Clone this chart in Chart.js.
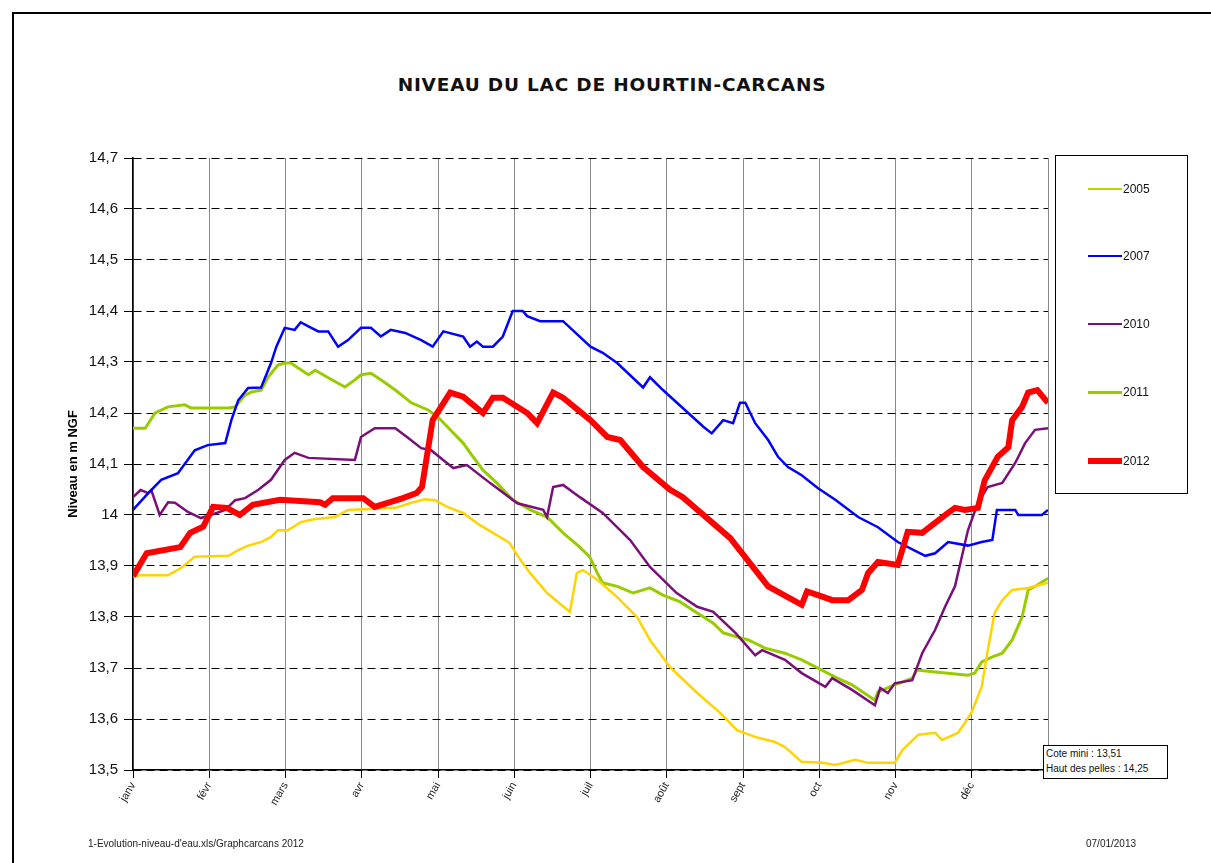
<!DOCTYPE html>
<html>
<head>
<meta charset="utf-8">
<script src="https://cdn.jsdelivr.net/npm/chart.js@4"></script>
<style>
  body { margin: 0; background: #fff; font-family: "Liberation Sans", Arial, sans-serif; }
  #page { position: relative; width: 1211px; height: 863px; overflow: hidden; }
  #frame { position: absolute; left: 12px; top: 12px; width: 1300px; height: 900px; border: 2px solid #000; }
  #title { position: absolute; left: 0; width: 1224px; top: 74px; text-align: center;
           font-family: "DejaVu Sans", sans-serif; font-weight: bold; font-size: 18.5px; letter-spacing: 0.8px; color: #111; }
  #chart { position: absolute; left: 0; top: 0; }
  #legend { position: absolute; left: 1055px; top: 155px; width: 131px; height: 337px; border: 1.5px solid #000; }
  .item { position: absolute; left: 0; height: 20px; width: 131px; }
  .item span.ln { position: absolute; left: 32px; width: 34px; }
  .item span.tx { position: absolute; left: 67px; top: 3px; font-size: 12px; color: #111; }
  #note { position: absolute; left: 1043px; top: 745px; width: 121px; height: 32px; border: 1.5px solid #000;
          background: #fff; font-size: 10px; line-height: 15px; padding-left: 2px; color: #111; }
  .foot { position: absolute; top: 838px; font-size: 10px; color: #222; }
</style>
</head>
<body>
<div id="page">
  <div id="frame"></div>
  <div id="title">NIVEAU DU LAC DE HOURTIN-CARCANS</div>
  <canvas id="chart" width="1211" height="863"></canvas>
  <div id="legend"></div>
  <div id="note">Cote mini : 13,51<br>Haut des pelles : 14,25</div>
  <div class="foot" style="left:88px">1-Evolution-niveau-d'eau.xls/Graphcarcans 2012</div>
  <div class="foot" style="left:1086px">07/01/2013</div>
</div>
<script>
// month labels (x axis = months since 1 Jan, 0..12)
const monthLabels = ["janv", "févr", "mars", "avr", "mai", "juin", "juil", "août", "sept", "oct", "nov", "déc"];

// 2005
const m2005 = [0, 0.10, 0.46, 0.63, 0.81, 1.25, 1.38, 1.51, 1.68, 1.81, 1.90, 2.03, 2.20, 2.39, 2.65, 2.82, 3.44, 3.65, 3.83, 3.96, 4.12, 4.33, 4.55, 4.81, 4.94, 5.08, 5.21, 5.43, 5.73, 5.82, 5.90, 6.09, 6.35, 6.61, 6.78, 7.04, 7.40, 7.70, 7.92, 8.16, 8.42, 8.55, 8.77, 9.04, 9.21, 9.47, 9.64, 9.99, 10.09, 10.30, 10.52, 10.61, 10.82, 10.91, 11.00, 11.13, 11.21, 11.30, 11.40, 11.53, 11.74, 12];
const v2005 = [13.88, 13.882, 13.882, 13.896, 13.918, 13.92, 13.931, 13.94, 13.947, 13.957, 13.97, 13.97, 13.986, 13.992, 13.996, 14.01, 14.014, 14.024, 14.031, 14.029, 14.016, 14.004, 13.98, 13.957, 13.945, 13.912, 13.886, 13.847, 13.81, 13.886, 13.892, 13.873, 13.839, 13.8, 13.755, 13.702, 13.651, 13.612, 13.578, 13.565, 13.555, 13.545, 13.516, 13.514, 13.51, 13.52, 13.514, 13.514, 13.539, 13.569, 13.573, 13.559, 13.573, 13.592, 13.614, 13.663, 13.735, 13.808, 13.833, 13.853, 13.857, 13.867];

// 2007
const m2007 = [0, 0.20, 0.37, 0.59, 0.81, 0.98, 1.21, 1.29, 1.38, 1.51, 1.68, 1.81, 1.88, 1.99, 2.12, 2.20, 2.30, 2.43, 2.56, 2.69, 2.82, 2.99, 3.12, 3.25, 3.38, 3.57, 3.78, 3.93, 4.07, 4.33, 4.42, 4.51, 4.59, 4.72, 4.85, 4.98, 5.11, 5.17, 5.34, 5.64, 6.0, 6.16, 6.35, 6.69, 6.78, 6.95, 7.48, 7.59, 7.74, 7.87, 7.96, 8.03, 8.16, 8.33, 8.46, 8.59, 8.77, 8.98, 9.21, 9.51, 9.77, 10.03, 10.39, 10.52, 10.69, 10.95, 11.13, 11.27, 11.33, 11.57, 11.61, 11.92, 12];
const v2007 = [14.01, 14.043, 14.069, 14.082, 14.127, 14.137, 14.141, 14.186, 14.225, 14.249, 14.25, 14.298, 14.33, 14.367, 14.363, 14.378, 14.37, 14.36, 14.36, 14.33, 14.343, 14.367, 14.367, 14.35, 14.363, 14.357, 14.343, 14.33, 14.36, 14.35, 14.33, 14.34, 14.33, 14.33, 14.35, 14.40, 14.40, 14.39, 14.38, 14.38, 14.33, 14.318, 14.298, 14.25, 14.27, 14.245, 14.173, 14.16, 14.186, 14.18, 14.22, 14.22, 14.18, 14.147, 14.114, 14.094, 14.078, 14.053, 14.03, 13.996, 13.976, 13.947, 13.92, 13.925, 13.947, 13.94, 13.947, 13.951, 14.01, 14.01, 14.0, 14.0, 14.01];

// 2010
const m2010 = [0, 0.10, 0.20, 0.24, 0.35, 0.46, 0.55, 0.72, 0.89, 1.02, 1.21, 1.34, 1.47, 1.64, 1.81, 1.99, 2.12, 2.30, 2.91, 2.99, 3.17, 3.44, 3.61, 3.78, 3.91, 4.10, 4.20, 4.38, 4.68, 5.04, 5.38, 5.43, 5.51, 5.64, 5.86, 6.16, 6.52, 6.78, 7.13, 7.40, 7.61, 7.90, 8.16, 8.25, 8.55, 8.77, 9.08, 9.17, 9.43, 9.73, 9.80, 9.90, 9.99, 10.22, 10.35, 10.52, 10.65, 10.78, 10.95, 11.08, 11.21, 11.40, 11.57, 11.70, 11.83, 12];
const v2010 = [14.035, 14.049, 14.043, 14.049, 14.0, 14.025, 14.024, 14.006, 13.994, 14.0, 14.01, 14.029, 14.033, 14.049, 14.069, 14.108, 14.122, 14.112, 14.108, 14.153, 14.17, 14.17, 14.151, 14.131, 14.127, 14.104, 14.092, 14.098, 14.063, 14.023, 14.01, 13.996, 14.055, 14.059, 14.035, 14.004, 13.951, 13.898, 13.847, 13.82, 13.81, 13.769, 13.725, 13.735, 13.716, 13.69, 13.663, 13.68, 13.657, 13.627, 13.661, 13.651, 13.67, 13.676, 13.729, 13.775, 13.82, 13.86, 13.97, 14.024, 14.055, 14.063, 14.102, 14.141, 14.167, 14.17];

// 2011
const m2011 = [0, 0.16, 0.29, 0.46, 0.68, 0.76, 1.25, 1.34, 1.47, 1.55, 1.68, 1.77, 1.90, 1.99, 2.07, 2.30, 2.39, 2.56, 2.78, 2.91, 2.99, 3.12, 3.25, 3.44, 3.65, 3.87, 4.0, 4.16, 4.33, 4.46, 4.59, 4.77, 4.98, 5.21, 5.43, 5.64, 5.86, 5.99, 6.09, 6.16, 6.35, 6.56, 6.78, 6.95, 7.17, 7.40, 7.61, 7.74, 7.92, 8.07, 8.29, 8.55, 8.77, 8.98, 9.21, 9.43, 9.73, 9.77, 9.99, 10.22, 10.28, 10.52, 10.95, 11.04, 11.13, 11.27, 11.40, 11.53, 11.66, 11.74, 11.83, 12];
const v2011 = [14.17, 14.17, 14.2, 14.212, 14.216, 14.21, 14.21, 14.212, 14.235, 14.241, 14.245, 14.27, 14.294, 14.298, 14.298, 14.275, 14.284, 14.269, 14.251, 14.265, 14.275, 14.278, 14.265, 14.245, 14.22, 14.206, 14.192, 14.167, 14.141, 14.114, 14.088, 14.063, 14.03, 14.01, 13.996, 13.965, 13.937, 13.918, 13.886, 13.867, 13.86, 13.847, 13.857, 13.843, 13.83, 13.808, 13.788, 13.769, 13.761, 13.755, 13.739, 13.729, 13.716, 13.7, 13.682, 13.667, 13.637, 13.653, 13.667, 13.68, 13.696, 13.692, 13.686, 13.69, 13.712, 13.722, 13.729, 13.755, 13.8, 13.853, 13.86, 13.876];

// 2012
const m2012 = [0, 0.18, 0.62, 0.75, 0.92, 1.05, 1.23, 1.40, 1.57, 1.93, 2.45, 2.52, 2.62, 3.02, 3.17, 3.54, 3.72, 3.79, 3.93, 4.16, 4.33, 4.59, 4.72, 4.85, 5.17, 5.30, 5.51, 5.64, 6.0, 6.22, 6.39, 6.69, 7.04, 7.21, 7.83, 8.33, 8.77, 8.84, 9.04, 9.17, 9.38, 9.56, 9.64, 9.77, 10.03, 10.16, 10.35, 10.48, 10.69, 10.78, 10.91, 11.08, 11.17, 11.34, 11.48, 11.53, 11.66, 11.74, 11.86, 12];
const v2012 = [13.88, 13.925, 13.937, 13.965, 13.977, 14.016, 14.014, 14.0, 14.02, 14.03, 14.025, 14.02, 14.033, 14.033, 14.016, 14.033, 14.043, 14.055, 14.186, 14.24, 14.232, 14.20, 14.23, 14.23, 14.20, 14.18, 14.24, 14.23, 14.186, 14.153, 14.147, 14.094, 14.05, 14.035, 13.955, 13.86, 13.824, 13.85, 13.84, 13.833, 13.833, 13.853, 13.886, 13.908, 13.902, 13.967, 13.965, 13.98, 14.004, 14.014, 14.01, 14.014, 14.068, 14.114, 14.133, 14.186, 14.212, 14.24, 14.245, 14.22];

const years = ["2005", "2007", "2010", "2011", "2012"];
const monthsByYear = [m2005, m2007, m2010, m2011, m2012];
const valuesByYear = [v2005, v2007, v2010, v2011, v2012];
const lineColors = ["#FFD400", "#0000FF", "#7A0F7A", "#99CC00", "#FF0000"];
const legendColors = ["#B4D800", "#0000FF", "#7A0F7A", "#99CC00", "#FF0000"];
const lineWidths = [2.5, 2.5, 2.5, 3, 6];
const drawOrder = [1, 2, 3, 4, 0];

let datasets = years.map((y, i) => ({
    label: y,
    data: monthsByYear[i].map((m, j) => ({ x: m, y: valuesByYear[i][j] })),
    borderColor: lineColors[i],
    borderWidth: lineWidths[i],
    pointRadius: 0,
    tension: 0,
    fill: false,
    order: drawOrder[i]
}));

// legend box
let legend = document.getElementById("legend");
let legendTops = [23, 90, 158, 226, 295];
years.forEach((y, i) => {
    let item = document.createElement("div");
    item.className = "item";
    item.style.top = legendTops[i] + "px";
    let ln = document.createElement("span");
    ln.className = "ln";
    ln.style.top = (10 - lineWidths[i] / 2) + "px";
    ln.style.height = lineWidths[i] + "px";
    ln.style.background = legendColors[i];
    let tx = document.createElement("span");
    tx.className = "tx";
    tx.textContent = y;
    item.appendChild(ln);
    item.appendChild(tx);
    legend.appendChild(item);
});

new Chart(document.getElementById("chart"), {
    type: "line",
    data: { datasets: datasets },
    options: {
        responsive: false,
        animation: false,
        layout: { padding: { left: 50, top: 158, right: 163, bottom: 43 } },
        plugins: { legend: { display: false }, tooltip: { enabled: false } },
        scales: {
            x: {
                type: "linear",
                min: 0,
                max: 12,
                afterFit: scale => { scale.height = 50; },
                ticks: {
                    stepSize: 1,
                    autoSkip: false,
                    minRotation: 60,
                    maxRotation: 60,
                    padding: 2,
                    color: "#222",
                    font: { family: "Liberation Sans", size: 11 },
                    callback: v => monthLabels[v] || ""
                },
                grid: { color: "#8a8a8a", lineWidth: 1, tickLength: 8, tickColor: "#000" },
                border: { color: "#000", width: 1.5 }
            },
            y: {
                min: 13.5,
                max: 14.7,
                afterFit: scale => { scale.width = 83; },
                ticks: {
                    stepSize: 0.1,
                    padding: 6,
                    color: "#111",
                    font: { family: "Liberation Sans", size: 15 },
                    callback: v => String(Number(v.toFixed(1))).replace(".", ",")
                },
                grid: {
                    color: "#000",
                    lineWidth: 1,
                    tickLength: 9,
                    tickBorderDash: [],
                    tickColor: "#000"
                },
                // in v4 the grid line dash lives under border
                border: { color: "#000", width: 1.5, dash: [8, 5] },
                title: {
                    display: true,
                    text: "Niveau en m NGF",
                    color: "#000",
                    padding: { top: 16, bottom: 0 },
                    font: { family: "Liberation Sans", size: 13, weight: "bold" }
                }
            }
        }
    }
});
</script>
</body>
</html>
